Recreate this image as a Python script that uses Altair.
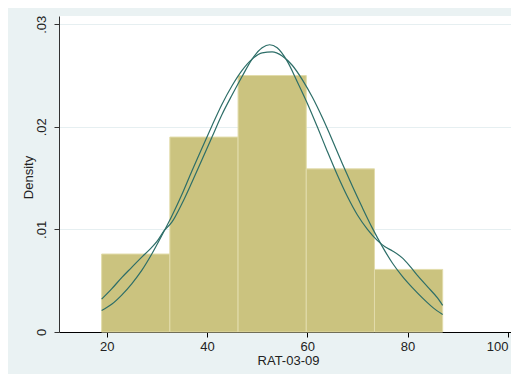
import altair as alt
import pandas as pd

# Histogram (density scale)
bin_start = [19.0, 32.6, 46.2, 59.8, 73.4]
bin_end = [32.6, 46.2, 59.8, 73.4, 87.0]
bin_density = [0.0076, 0.0190, 0.0250, 0.0159, 0.0061]

# Normal density curve
norm_x = [19, 21, 23, 25, 27, 29, 31, 33, 35, 37, 39, 41, 43, 45, 47, 49, 51, 53,
          55, 57, 59, 61, 63, 65, 67, 69, 71, 73, 75, 77, 79, 81, 83, 85, 87]
norm_y = [0.0021, 0.0027, 0.0036, 0.0047, 0.0060, 0.0076, 0.0094, 0.0113, 0.0134,
          0.0157, 0.0179, 0.0201, 0.0222, 0.0240, 0.0255, 0.0266, 0.0272, 0.0273,
          0.0269, 0.0260, 0.0246, 0.0229, 0.0209, 0.0187, 0.0164, 0.0142, 0.0121,
          0.0101, 0.0083, 0.0067, 0.0054, 0.0043, 0.0033, 0.0024, 0.0017]

# Kernel density curve
kde_x = [19, 21, 23, 25, 27, 28.5, 30, 31.5, 33, 35, 37, 39, 41, 43, 45, 47, 49, 51,
         52.5, 54, 56, 58, 60, 62, 64, 66, 68, 70, 72, 74, 75.5, 77, 79, 80.5, 82,
         84, 86, 87]
kde_y = [0.0032, 0.0042, 0.0053, 0.0063, 0.0073, 0.0080, 0.0088, 0.0099, 0.0107,
         0.0125, 0.0146, 0.0168, 0.0190, 0.0212, 0.0231, 0.0249, 0.0266, 0.0277,
         0.0280, 0.0277, 0.0264, 0.0244, 0.0223, 0.0200, 0.0176, 0.0153, 0.0132,
         0.0114, 0.0100, 0.0089, 0.0083, 0.0079, 0.0072, 0.0064, 0.0055, 0.0044,
         0.0033, 0.0026]

x_ticks = [20, 40, 60, 80, 100]
y_ticks = [0, 0.01, 0.02, 0.03]

hist_df = pd.DataFrame({"start": bin_start, "end": bin_end,
                        "density": bin_density, "base": [0] * len(bin_start)})
norm_df = pd.DataFrame({"x": norm_x, "y": norm_y})
kde_df = pd.DataFrame({"x": kde_x, "y": kde_y})

FONT = "Liberation Sans"
W, H = 452, 316

x_scale = alt.Scale(domain=[10.5, 100.62], nice=False, zero=False)
y_scale = alt.Scale(domain=[0, 0.0308], nice=False, zero=False)

x_axis = alt.Axis(values=x_ticks, grid=False, tickSize=5, labelFontSize=13,
                  labelFont=FONT, labelColor="#222222", labelPadding=3,
                  labelOverlap=False, labelBound=False, labelFlush=10,
                  domainColor="#000000", tickColor="#000000",
                  titleFont=FONT, titleFontSize=13, titleFontWeight="normal",
                  titleColor="#222222", titleX=229, titleY=28,
                  titleAlign="center", titleBaseline="middle")
y_axis = alt.Axis(values=y_ticks, grid=True, gridColor="#e6eff1", gridWidth=1,
                  tickSize=5, labelFontSize=13, labelFont=FONT,
                  labelColor="#222222", labelAngle=270, labelAlign="center",
                  labelBaseline="bottom", labelPadding=6,
                  labelExpr="datum.value == 0 ? '0' : substring(format(datum.value, '.2f'), 1)",
                  domainColor="#333333", tickColor="#333333",
                  titleFont=FONT, titleFontSize=13, titleFontWeight="normal",
                  titleColor="#222222", titleAngle=270, titleX=-31, titleY=H / 2 + 3,
                  titleAlign="center", titleBaseline="middle")

bars = alt.Chart(hist_df).mark_rect(
    fill="#cbc37f", stroke="#e2dcab", strokeWidth=1
).encode(
    x=alt.X("start:Q", scale=x_scale, axis=x_axis, title="RAT-03-09"),
    x2="end:Q",
    y=alt.Y("density:Q", scale=y_scale, axis=y_axis, title="Density"),
    y2="base:Q",
)

norm_line = alt.Chart(norm_df).mark_line(
    color="#2d6e68", strokeWidth=1.2, interpolate="monotone"
).encode(
    x=alt.X("x:Q", scale=x_scale, axis=x_axis, title="RAT-03-09"),
    y=alt.Y("y:Q", scale=y_scale, axis=y_axis, title="Density"),
)

kde_line = alt.Chart(kde_df).mark_line(
    color="#2d6e68", strokeWidth=1.2, interpolate="monotone"
).encode(
    x=alt.X("x:Q", scale=x_scale, axis=x_axis, title="RAT-03-09"),
    y=alt.Y("y:Q", scale=y_scale, axis=y_axis, title="Density"),
)

chart = alt.layer(bars, norm_line, kde_line).properties(
    width=W, height=H,
    autosize=alt.AutoSizeParams(type="none"),
    padding={"left": 51, "top": 8, "right": 0, "bottom": 42},
).configure(background="#eaf2f3").configure_view(fill="white", strokeWidth=0)

chart.save("out.html", embed_options={"renderer": "svg", "actions": False})
